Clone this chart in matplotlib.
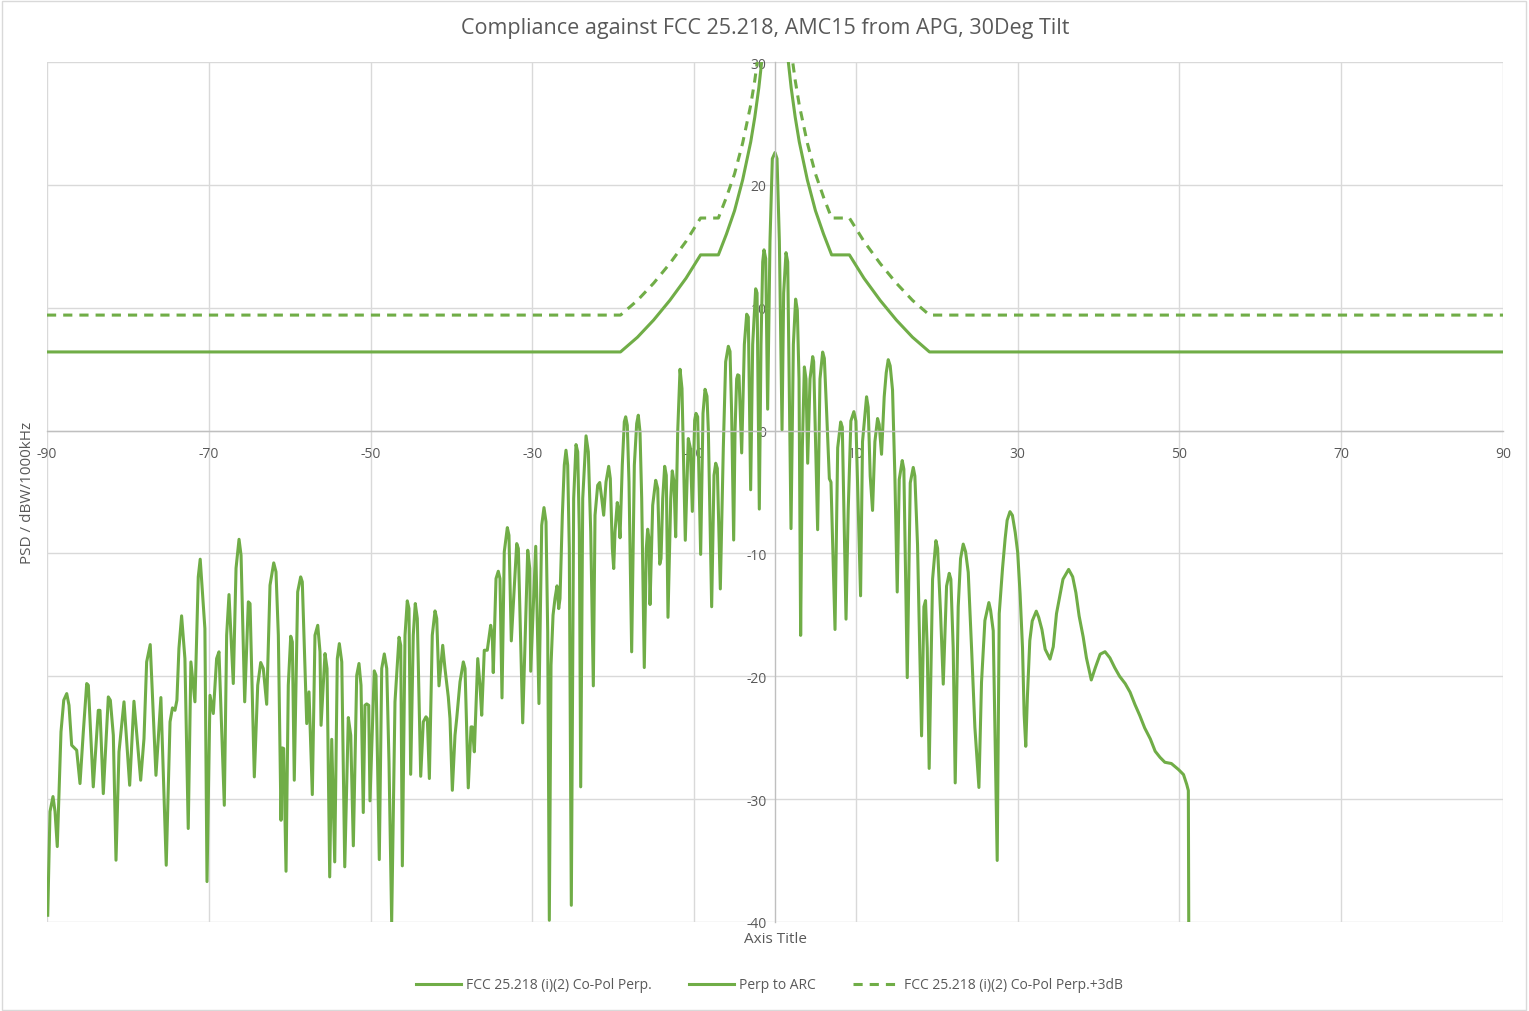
import matplotlib
matplotlib.use('Agg')
import matplotlib.pyplot as plt
from matplotlib.lines import Line2D
from matplotlib.patches import Rectangle

plt.rcParams['font.family'] = ['Open Sans', 'DejaVu Sans']
plt.rcParams['axes.unicode_minus'] = False

title = 'Compliance against FCC 25.218, AMC15 from APG, 30Deg Tilt'
x_title = 'Axis Title'
y_title = 'PSD / dBW/1000kHz'
labels = ['FCC 25.218 (i)(2) Co-Pol Perp.', 'Perp to ARC', 'FCC 25.218 (i)(2) Co-Pol Perp.+3dB']

x_ticks = [-90, -70, -50, -30, -10, 10, 30, 50, 70, 90]
y_ticks = [-40, -30, -20, -10, 0, 10, 20, 30]

# FCC mask
mask_deg = [-90, -19.1, -17, -15, -13, -11, -9.2, -7, -6, -5, -4, -3, -2.5, -2, -1.6, -1.3,
            1.3, 1.6, 2, 2.5, 3, 4, 5, 6, 7, 9.2, 11, 13, 15, 17, 19.1, 90]
mask_db = [6.4, 6.4, 7.6, 9.0, 10.6, 12.4, 14.3, 14.3, 16.0, 17.9, 20.4, 23.5, 25.5, 27.9, 30.3, 32.6,
           32.6, 30.3, 27.9, 25.5, 23.5, 20.4, 17.9, 16.0, 14.3, 14.3, 12.4, 10.6, 9.0, 7.6, 6.4, 6.4]
mask3_db = [9.4, 9.4, 10.6, 12.0, 13.6, 15.4, 17.3, 17.3, 19.0, 20.9, 23.4, 26.5, 28.5, 30.9, 33.3, 35.6,
            35.6, 33.3, 30.9, 28.5, 26.5, 23.4, 20.9, 19.0, 17.3, 17.3, 15.4, 13.6, 12.0, 10.6, 9.4, 9.4]

# measured pattern, perp to arc
perp_deg = [
    -89.91, -89.63, -89.26, -89.01, -88.73, -88.27, -87.93, -87.56, -87.28, -86.95,
    -86.54, -86.33, -85.92, -85.51, -85.09, -84.89, -84.28, -83.66, -83.45, -83.04,
    -82.42, -82.17, -81.80, -81.47, -81.10, -80.48, -79.78, -79.25, -78.42, -78.01,
    -77.68, -77.24, -76.53, -75.92, -75.26, -74.79, -74.49, -74.18, -73.94, -73.69,
    -73.36, -72.95, -72.54, -72.21, -71.71, -71.30, -71.06, -70.48, -70.22,
    -69.85, -69.44, -69.03, -68.74, -68.08, -67.79, -67.50, -66.97, -66.63, -66.26,
    -66.01, -65.77, -65.56, -65.11, -64.90, -64.37, -63.95, -63.58, -63.26, -62.84,
    -62.43, -61.97, -61.69, -61.40, -61.07, -60.91, -60.74, -60.45, -60.17, -59.87,
    -59.67, -59.43, -59.01, -58.64, -58.44, -58.10, -57.89, -57.61, -57.20, -56.87,
    -56.53, -56.25, -56.12, -55.63, -55.38, -55.05, -54.80, -54.43, -54.11, -53.86,
    -53.56, -53.19, -52.75, -52.45, -52.13, -51.71, -51.43, -51.18, -50.90, -50.69,
    -50.48, -50.23, -50.07,
    -49.54, -49.33, -48.92, -48.62, -48.30, -48.00, -47.72, -47.39, -46.98, -46.48,
    -46.27, -46.07, -45.74, -45.46, -45.25, -45.04, -44.72, -44.47, -44.22, -43.80,
    -43.48, -43.15, -42.98, -42.73, -42.37, -42.03, -41.82, -41.54, -41.08, -40.80,
    -40.39, -40.18, -39.89, -39.56, -39.35, -38.94, -38.53, -38.32, -37.92, -37.58,
    -37.42, -37.17, -36.75, -36.47, -36.26, -35.94, -35.57, -35.15, -34.95, -34.83,
    -34.49, -34.21, -34.00, -33.75, -33.47, -33.09, -32.89, -32.60, -31.93, -31.73,
    -31.19, -30.57, -30.32,
    -30.20, -29.58, -29.18, -28.84, -28.56, -28.31, -28.10, -27.90, -27.69, -27.44,
    -27.20, -26.95, -26.74, -26.58, -26.29, -26.05, -25.84, -25.63, -25.43, -25.18,
    -24.89, -24.60, -24.39, -24.19, -24.02, -23.77, -23.36, -23.08, -22.78, -22.46,
    -22.25, -21.92, -21.67, -21.42, -21.18, -20.89, -20.56, -20.36, -20.11, -19.94,
    -19.78, -19.50, -19.37, -19.16, -18.88, -18.63, -18.46, -18.26, -18.05, -17.72,
    -17.39, -17.10, -16.90, -16.69, -16.48, -16.16, -15.91, -15.74, -15.58, -15.45,
    -15.12, -14.75, -14.50, -14.25, -14.09, -13.88, -13.64, -13.44, -13.23, -12.89,
    -12.70, -12.49, -12.28, -12.03, -11.74, -11.50, -11.09, -10.72,
    -10.47, -10.22, -9.93, -9.77, -9.56, -9.19, -8.90, -8.65, -8.41, -8.24,
    -7.83, -7.54, -7.33, -7.13, -6.76, -6.39, -6.10, -5.77, -5.56, -5.36,
    -5.11, -4.94, -4.74, -4.61, -4.45, -4.12, -3.79, -3.50, -3.30, -3.01,
    -2.76, -2.39, -2.22, -1.94, -1.73, -1.52, -1.36, -1.15, -0.91, -0.62,
    -0.33, 0.00, 0.25, 0.54, 0.87, 1.07, 1.36, 1.57, 1.98, 2.27,
    2.55, 2.76, 2.97, 3.17, 3.38, 3.63, 3.83, 4.04, 4.33, 4.66,
    4.78, 5.27, 5.56, 5.89, 6.10, 6.39, 6.72, 6.92, 7.42, 7.75,
    8.12, 8.32, 8.78,
    9.05, 9.38, 9.75, 10.00, 10.29, 10.58, 10.82, 11.32, 11.52, 11.77,
    12.06, 12.35, 12.68, 12.88, 13.17, 13.50, 13.75, 14.00, 14.24, 14.53,
    14.82, 15.11, 15.36, 15.73, 15.93, 16.35, 16.72, 17.09, 17.29, 17.62,
    18.12, 18.41, 18.61, 18.82, 19.06, 19.48, 19.89, 20.10, 20.47, 20.80,
    21.21, 21.54, 21.74, 22.03, 22.28, 22.65, 22.94, 23.27, 23.56, 23.89,
    24.30, 24.71, 25.21, 25.53, 25.95, 26.44, 26.65, 26.98, 27.47, 27.72,
    28.13,
    28.45, 28.70, 29.05, 29.35, 29.70, 30.00, 30.30, 30.60, 30.80, 31.00,
    31.20, 31.50, 31.80, 32.30, 32.60, 33.00, 33.40, 34.00, 34.40, 34.80,
    35.20, 35.60, 36.30, 36.80, 37.20, 37.60, 38.10, 38.50, 39.10, 39.60,
    40.20, 40.80, 41.40, 42.00, 42.60, 43.30, 43.90, 44.50, 45.10, 45.70,
    46.40, 47.00, 47.60, 48.20, 49.00, 49.90, 50.50, 50.90, 51.10, 51.15,
]
perp_db = [
    -39.45, -31.01, -29.79, -31.00, -33.86, -24.52, -21.95, -21.41, -22.36, -25.61,
    -25.88, -26.02, -28.73, -24.52, -20.59, -20.73, -29.00, -22.77, -22.77, -29.55,
    -21.68, -21.95, -24.80, -34.97, -26.15, -22.08, -28.87, -22.03, -28.46, -25.07,
    -18.83, -17.42, -28.06, -21.73, -35.38, -23.71, -22.57, -22.77, -21.95, -17.74,
    -15.08, -18.56, -32.39, -18.83, -22.08, -11.91, -10.47, -16.12, -36.71,
    -21.55, -23.03, -18.56, -18.01, -30.50, -16.66, -13.35, -20.59, -11.20, -8.85,
    -10.15, -16.66, -22.08, -13.94, -14.08, -28.19, -20.73, -18.88, -19.37, -22.28,
    -12.59, -10.77, -11.50, -16.66, -31.72, -25.83, -25.88, -35.87, -20.73, -16.74,
    -17.20, -28.46, -13.13, -11.91, -12.31, -19.37, -23.85, -21.27, -29.63, -16.66,
    -15.85, -18.01, -23.99, -18.15, -19.37, -36.33, -25.13, -35.11, -18.56, -17.34,
    -18.83, -35.51, -23.36, -24.80, -33.80, -19.92, -18.96, -20.73, -31.09, -22.36,
    -22.25, -22.36, -30.14,
    -19.56, -19.92, -34.92, -19.37, -18.18, -19.37, -26.97, -39.99, -22.08, -16.82,
    -17.48, -35.43, -16.66, -13.86, -14.49, -27.98, -16.66, -14.08, -15.30, -28.14,
    -23.71, -23.30, -23.44, -28.32, -16.66, -14.68, -15.30, -20.78, -17.48, -19.37,
    -21.68, -23.44, -29.28, -24.80, -23.44, -20.45, -18.83, -19.37, -29.08, -24.12,
    -24.12, -26.15, -18.56, -20.73, -23.17, -17.88, -17.88, -15.85, -16.66, -19.70,
    -12.05, -11.45, -12.05, -21.76, -9.87, -7.90, -8.52, -17.12, -9.20, -9.60,
    -23.79, -9.74, -11.23,
    -19.59, -9.42, -22.22, -7.71, -6.27, -7.43, -16.38, -39.86, -19.10, -15.03,
    -13.67, -12.64, -14.49, -13.67, -6.89, -2.82, -1.60, -2.82, -9.60, -38.64,
    -5.53, -1.14, -1.73, -8.25, -29.00, -5.53, -0.43, -1.73, -8.25, -20.78,
    -6.89, -4.45, -4.23, -5.53, -6.89, -4.18, -2.91, -3.91, -9.60, -11.23,
    -8.25, -5.86, -6.35, -8.73, -2.82, 0.71, 1.12, 0.43, -4.18, -18.01,
    -2.82, 0.57, 1.25, -0.11, -5.53, -19.29, -9.60, -8.03, -8.79, -14.16,
    -6.08, -4.05, -4.72, -10.88, -10.42, -5.53, -2.91, -3.64, -15.20, -5.53,
    -3.28, -4.18, -8.65, -0.11, 4.99, 3.42, -8.93, -0.65,
    -1.40, -6.58, 0.84, 1.40, 1.12, -10.08, 1.40, 3.36, 2.80, 0.00,
    -14.34, -3.64, -2.66, -3.08, -12.89, -1.40, 5.60, 6.86, 6.44, 1.40,
    -8.91, 0.00, 4.20, 4.54, 4.48, -1.82, 7.00, 9.47, 9.24, -4.82,
    7.00, 11.54, 11.20, -6.39, 7.00, 13.73, 14.71, 14.00, 1.74, 15.41,
    22.13, 22.63, 22.13, 15.41, 0.06, 11.20, 14.48, 13.73, -7.98, 7.00,
    10.70, 9.80, 4.20, -16.67, -1.40, 5.18, 4.20, -2.66, 4.20, 6.02,
    5.60, -8.07, 4.20, 6.39, 5.88, 1.40, -3.92, -4.20, -16.19, -1.40,
    0.70, 0.28, -15.35,
    -6.50, 0.78, 1.54, 0.78, -6.50, -13.45, -0.90, 2.75, 1.90, -3.70,
    -6.50, -0.90, 0.98, 0.50, -1.93, 2.75, 4.70, 5.77, 5.27, 3.30,
    -3.70, -13.14, -3.98, -2.44, -3.14, -20.11, -4.26, -3.00, -3.70, -9.30,
    -24.85, -14.34, -13.84, -17.70, -27.50, -12.10, -8.96, -9.58, -14.90, -20.64,
    -12.66, -11.62, -12.10, -17.70, -28.68, -14.34, -10.42, -9.24, -9.86, -11.54,
    -17.70, -24.15, -29.05, -20.50, -15.46, -14.00, -14.62, -16.30, -34.99, -14.90,
    -11.20,
    -8.80, -7.30, -6.60, -6.90, -8.30, -9.90, -13.30, -17.70, -23.10, -25.70,
    -21.70, -17.10, -15.50, -14.70, -15.20, -16.20, -17.80, -18.60, -17.60, -14.90,
    -13.50, -12.10, -11.30, -11.90, -13.20, -15.10, -16.80, -18.50, -20.30, -19.30,
    -18.20, -18.00, -18.50, -19.30, -20.00, -20.60, -21.30, -22.30, -23.20, -24.20,
    -25.10, -26.10, -26.60, -27.00, -27.10, -27.60, -28.00, -28.80, -29.30, -40.00,
]


def main():
	W, H = 1529, 1012
	green = '#70AD47'
	grey = '#595959'
	fig = plt.figure(figsize=(W / 100, H / 100), dpi=100)
	fig.patches.append(Rectangle((0.001, 0.001), 0.997, 0.997, transform=fig.transFigure,
	                             fill=False, edgecolor='#D9D9D9', lw=1))

	ax = fig.add_axes([47 / W, 1 - 923 / H, (1503 - 47) / W, (923 - 63) / H])
	ax.plot(mask_deg, mask_db, color=green, lw=2.2, solid_joinstyle='round')
	ax.plot(perp_deg, perp_db, color=green, lw=2.2, solid_joinstyle='round')
	ax.plot(mask_deg, mask3_db, color=green, lw=2.2, linestyle=(0, (3, 2.3)))

	ax.set_xlim(-90, 90)
	ax.set_ylim(-40, 30)
	ax.set_xticks(x_ticks)
	ax.set_yticks(y_ticks)
	ax.grid(True, color='#D9D9D9', lw=1)
	ax.set_axisbelow(True)
	for s in ['top', 'right']:
		ax.spines[s].set_visible(False)
	ax.spines['left'].set_position(('data', 0))
	ax.spines['bottom'].set_position(('data', 0))
	for s in ['left', 'bottom']:
		ax.spines[s].set_color('#BFBFBF')
		ax.spines[s].set_linewidth(1)
	ax.tick_params(axis='both', length=0, labelsize=10, labelcolor=grey)
	ax.tick_params(axis='x', pad=11)
	ax.tick_params(axis='y', pad=6)

	fig.text(765 / W, 1 - 29 / H, title, ha='center', va='center', fontsize=15.5, color=grey)
	fig.text(775 / W, 1 - 940 / H, x_title, ha='center', va='center', fontsize=11, color=grey)
	fig.text(28 / W, 1 - 493 / H, y_title, ha='center', va='center', rotation=90,
	         fontsize=11, color=grey)

	handles = [Line2D([], [], color=green, lw=2.2),
	           Line2D([], [], color=green, lw=2.2),
	           Line2D([], [], color=green, lw=2.2, linestyle=(0, (3, 2.3)))]
	leg = fig.legend(handles, labels, loc='center', bbox_to_anchor=(769 / W, 1 - 986 / H),
	                 ncol=3, frameon=False, fontsize=10, handlelength=3.25,
	                 handletextpad=0.36, columnspacing=2.7)
	for t in leg.get_texts():
		t.set_color(grey)

	fig.savefig('out.png', dpi=100)


if __name__ == '__main__':
	main()
